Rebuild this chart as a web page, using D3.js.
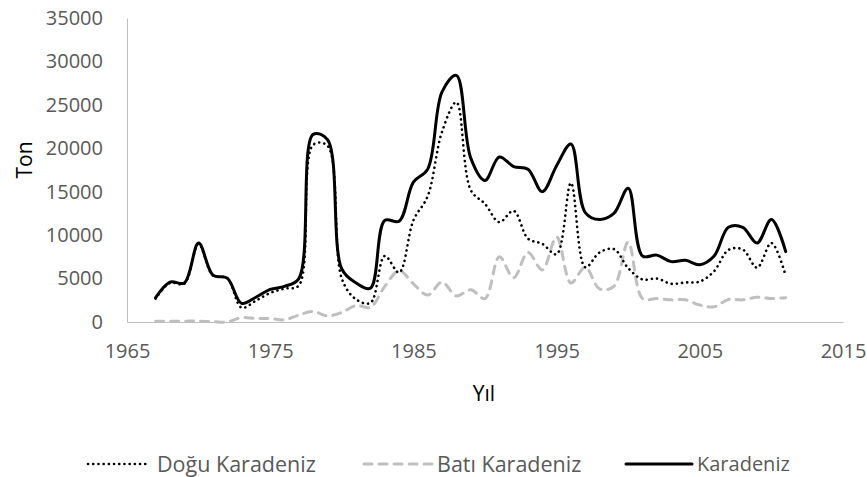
<!DOCTYPE html>
<html>
<head>
<meta charset="utf-8">
<script src="https://cdn.jsdelivr.net/npm/d3@7"></script>
<style>
  html, body { margin: 0; padding: 0; background: #fff; }
  svg { display: block; }
  text { font-family: "Open Sans", sans-serif; fill: #595959; }
</style>
</head>
<body>
<svg id="chart" width="867" height="477"></svg>
<script>
const years = [1967,1968,1969,1970,1971,1972,1973,1974,1975,1976,1977,1978,1979,1980,1981,1982,1983,1984,1985,1986,1987,1988,1989,1990,1991,1992,1993,1994,1995,1996,1997,1998,1999,2000,2001,2002,2003,2004,2005,2006,2007,2008,2009,2010,2011];

const doguKaradeniz = [2700,4500,4400,9000,5350,5050,1650,2450,3350,3850,4200,20400,20300,5000,2600,2200,7600,5700,11700,14500,21900,25300,15200,13600,11500,12800,9600,9000,7800,16000,6300,8000,8400,6200,4900,5000,4400,4550,4650,5850,8300,8350,6250,9100,5300];

const batiKaradeniz = [100,100,100,100,50,0,500,400,400,250,800,1200,700,1100,1900,1700,4100,5900,4400,3100,4600,3000,3700,2700,7500,5100,8000,6000,9800,4500,6300,3800,4100,9200,2700,2700,2550,2550,1950,1750,2600,2550,2850,2700,2800];

const karadeniz = [2800,4600,4500,9100,5400,5050,2150,2850,3750,4100,5000,21600,21000,6100,4500,3900,11700,11600,16100,17600,26500,28400,18900,16300,19000,17900,17600,15000,18000,20500,12600,11800,12500,15400,7600,7700,6950,7100,6600,7600,10900,10900,9100,11800,8100];

const xTicks = [1965,1975,1985,1995,2005,2015];
const yTicks = [0,5000,10000,15000,20000,25000,30000,35000];

const seriesNames = ["Doğu Karadeniz", "Batı Karadeniz", "Karadeniz"];
const xTitle = "Yıl";
const yTitle = "Ton";

const styles = [
  { color: "#000000", width: 2.6, dash: "0.1,5.1", cap: "round" },
  { color: "#BFBFBF", width: 3, dash: "8,7", cap: "round" },
  { color: "#000000", width: 3, dash: null, cap: "round" }
];
const seriesData = [doguKaradeniz, batiKaradeniz, karadeniz];

const svg = d3.select("#chart");
const x = d3.scaleLinear().domain([1965, 2015]).range([127, 843]);
const y = d3.scaleLinear().domain([0, 35000]).range([322, 18]);

// Y axis
const yAxis = svg.append("g").attr("transform", "translate(127,0)")
  .call(d3.axisLeft(y).tickValues(yTicks).tickFormat(d3.format("d")).tickSize(0).tickPadding(24));
yAxis.select(".domain").attr("stroke", "#BFBFBF").attr("stroke-width", 1);
yAxis.selectAll("text").style("font-size", "20px").style("fill", "#595959").style("font-family", "'Open Sans', sans-serif");

// X axis
const xAxis = svg.append("g").attr("transform", "translate(0,322)")
  .call(d3.axisBottom(x).tickValues(xTicks).tickFormat(d3.format("d")).tickSize(0).tickPadding(22));
xAxis.select(".domain").attr("stroke", "#BFBFBF").attr("stroke-width", 1);
xAxis.selectAll("text").style("font-size", "20px").style("fill", "#595959").style("font-family", "'Open Sans', sans-serif");

// Titles
svg.append("text").attr("x", 484).attr("y", 401).attr("text-anchor", "middle")
  .style("font-size", "21px").style("fill", "#000").text(xTitle);
svg.append("text").attr("transform", "translate(32,160) rotate(-90)").attr("text-anchor", "middle")
  .style("font-size", "21px").style("fill", "#000").text(yTitle);

// Lines
const line = d3.line().curve(d3.curveCatmullRom.alpha(0.5))
  .x((d, i) => x(years[i])).y(d => y(d));

const drawOrder = [1, 0, 2];
drawOrder.forEach(k => {
  const s = styles[k];
  svg.append("path")
    .datum(seriesData[k])
    .attr("d", line)
    .attr("fill", "none")
    .attr("stroke", s.color)
    .attr("stroke-width", s.width)
    .attr("stroke-linecap", s.cap)
    .attr("stroke-linejoin", "round")
    .attr("stroke-dasharray", s.dash);
});

// Legend
const legendItems = [
  { x0: 88, x1: 150, tx: 157, fs: 21.5 },
  { x0: 364, x1: 432, tx: 437, fs: 21.5 },
  { x0: 626, x1: 692, tx: 697, fs: 20 }
];
const ly = 464;
legendItems.forEach((it, k) => {
  const s = styles[k];
  svg.append("line").attr("x1", it.x0).attr("x2", it.x1).attr("y1", ly).attr("y2", ly)
    .attr("stroke", s.color).attr("stroke-width", s.width)
    .attr("stroke-linecap", s.cap).attr("stroke-dasharray", s.dash);
  svg.append("text").attr("x", it.tx).attr("y", ly).attr("dy", "0.35em")
    .style("font-size", it.fs + "px").style("fill", "#595959").text(seriesNames[k]);
});
</script>
</body>
</html>
